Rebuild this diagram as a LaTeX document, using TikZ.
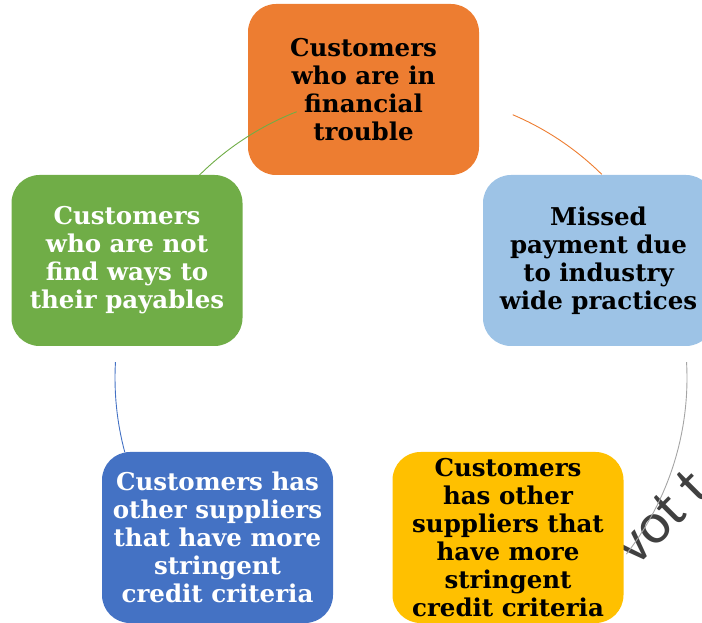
\documentclass[tikz,border=0pt]{standalone}
\usepackage{fontspec}
\setmainfont{DejaVu Serif}
\newfontfamily\markfont{Carlito}
\definecolor{cOrange}{HTML}{ED7D31}
\definecolor{cLightBlue}{HTML}{9DC3E6}
\definecolor{cYellow}{HTML}{FFC000}
\definecolor{cBlue}{HTML}{4472C4}
\definecolor{cGreen}{HTML}{70AD47}
\definecolor{cGray}{HTML}{A5A5A5}
\definecolor{cMark}{HTML}{404040}
\begin{document}
\begin{tikzpicture}[x=1pt,y=1pt,
  cyclebox/.style={rectangle, rounded corners=28pt, minimum width=231pt,
    minimum height=171pt, inner sep=0pt, align=center,
    font=\fontsize{24.5}{28}\selectfont\bfseries},
  cyclearc/.style={line width=0.9pt}]
\useasboundingbox (0,0) rectangle (702,622);
\clip (0,0) rectangle (702,622);

% centre of the cycle
\coordinate (c) at (401,244);

% rotated grey lettering behind the lower right box
\node[anchor=base west, rotate=45, inner sep=0pt, text=cMark,
      font=\markfont\fontsize{58}{60}\selectfont] (mark) at (636,54) {vot t};

% the five stages
\node[cyclebox, fill=cOrange, text=black] (trouble) at (363.5,532.5)
  {Customers\\who are in\\financial\\trouble};
\node[cyclebox, fill=cLightBlue, text=black] (missed) at (598.5,361.5)
  {Missed\\payment due\\to industry\\wide practices};
\node[cyclebox, fill=cYellow, text=black] (stringentA) at (508,84.5)
  {Customers\\has other\\suppliers that\\have more\\stringent\\credit criteria};
\node[cyclebox, fill=cBlue, text=white] (stringentB) at (217.5,84.5)
  {Customers has\\other suppliers\\that have more\\stringent\\credit criteria};
\node[cyclebox, fill=cGreen, text=white] (payables) at (127,361.5)
  {Customers\\who are not\\find ways to\\their payables};

% connecting arcs on the cycle circle
\draw[cyclearc, cOrange] (c) ++(67:286) arc[start angle=67, end angle=45.4, radius=286];
\draw[cyclearc, cGray] (c) ++(3.2:286) arc[start angle=3.2, end angle=-38, radius=286];
\draw[cyclearc, cBlue] (c) ++(195:286) arc[start angle=195, end angle=176.8, radius=286];
\draw[cyclearc, cGreen] (c) ++(135.1:286) arc[start angle=135.1, end angle=111.4, radius=286];
\end{tikzpicture}
\end{document}
